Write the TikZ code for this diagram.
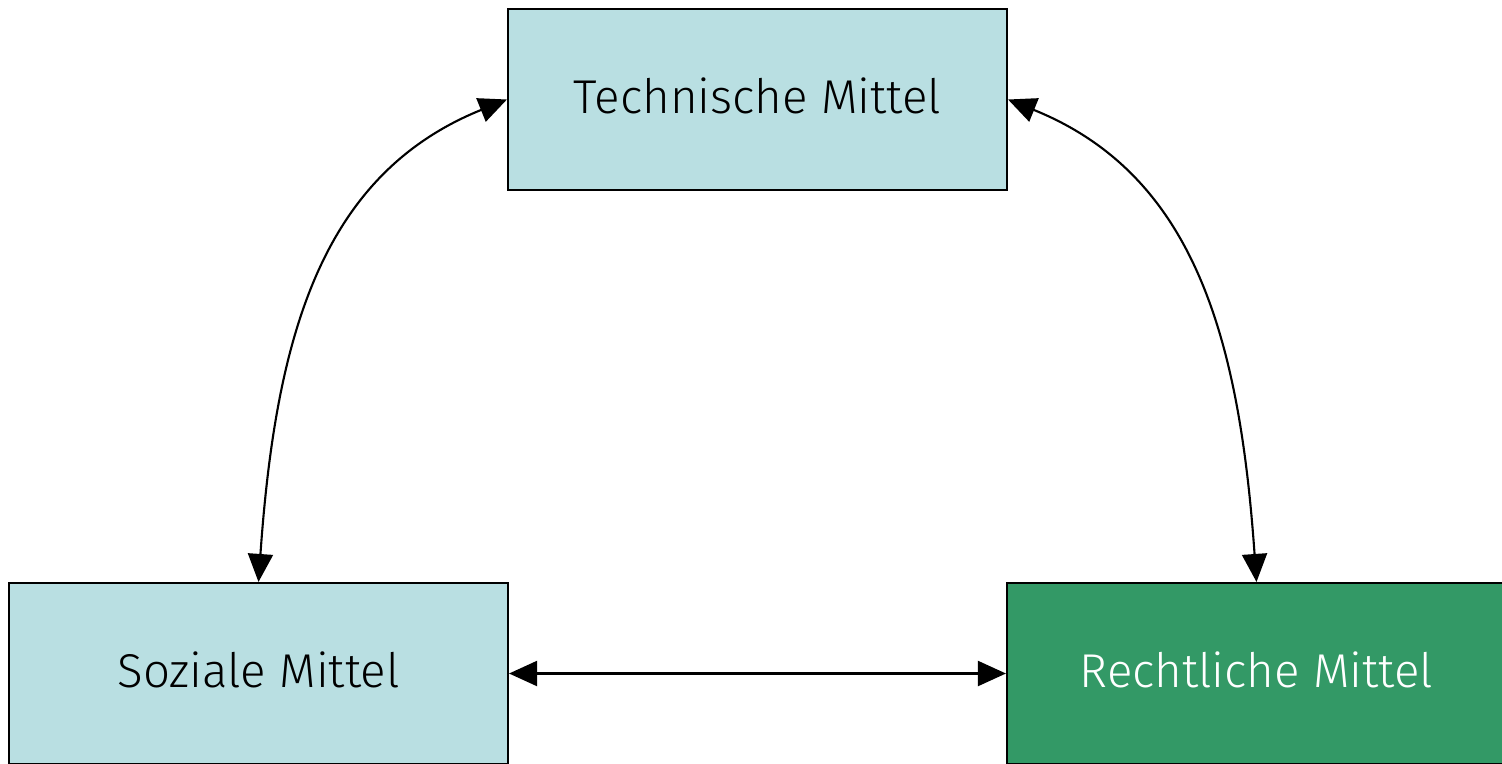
\documentclass[tikz,border=0pt]{standalone}
\usepackage{fontspec}
\setmainfont{Fira Sans}[UprightFont=* Light]
\usetikzlibrary{arrows.meta}
\definecolor{hellblau}{HTML}{B9DFE2}
\definecolor{gruen}{HTML}{339966}

\begin{document}
\begin{tikzpicture}[auto, line width=1.2pt, >={Triangle[length=0.56cm,width=0.5cm]},
                    main node/.style={rectangle,draw,minimum width=9.98cm,minimum height=3.62cm,text depth=0.16cm,font=\fontsize{27}{32}\selectfont},
                    bogen/.style={out looseness=0.94,in looseness=1.17}]

  \useasboundingbox (0,0) rectangle (30.04,-15.26);
  \clip (0,0) rectangle (30.04,-15.26);

  \node[main node,fill=hellblau] (1) at (15.15,-1.99) {Technische Mittel};
  \node[main node,fill=hellblau] (2) at (5.17,-13.47) {Soziale Mittel};
  \node[main node,fill=gruen,text=white] (3) at (25.13,-13.47) {Rechtliche Mittel};

  \path[<->]
    (1.west) edge[bogen,out=202, in=86] (2.north)
    (1.east) edge[bogen,out=-22, in=94] (3.north)
    (2) edge (3);

\end{tikzpicture}
\end{document}
